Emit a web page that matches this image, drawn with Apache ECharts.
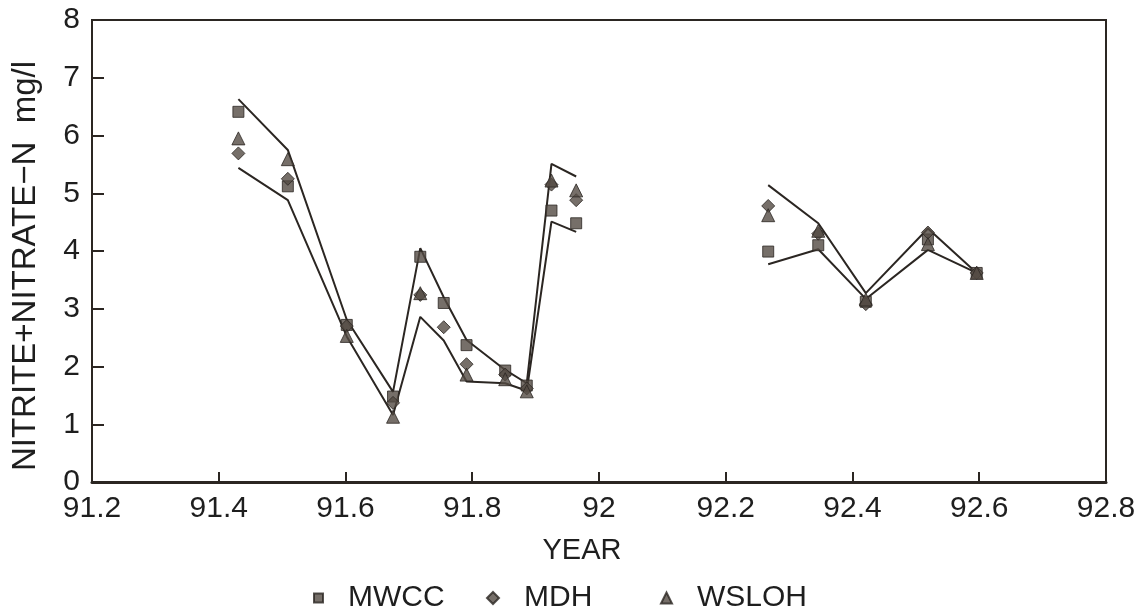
<!DOCTYPE html>
<html>
<head>
<meta charset="utf-8">
<script src="https://cdn.jsdelivr.net/npm/echarts@6/dist/echarts.min.js"></script>
<style>
html,body{margin:0;padding:0;background:#fff;}
#chart{width:1146px;height:616px;}
</style>
</head>
<body>
<div id="chart"></div>
<script>
// Sampling times (decimal year)
var years = [91.431, 91.509, 91.602, 91.675, 91.718, 91.755, 91.791, 91.852, 91.886, 91.925, 91.964, 92.267, 92.346, 92.421, 92.519, 92.596];
// Laboratory results (mg/l)
var mwcc  = [6.41, 5.12, 2.72, 1.48, 3.90, 3.10, 2.37, 1.93, 1.67, 4.70, 4.48, 3.99, 4.10, 3.12, 4.20, 3.62];
var mdh   = [5.69, 5.25, 2.70, 1.37, 3.24, 2.68, 2.04, 1.86, 1.62, 5.15, 4.88, 4.78, 4.30, 3.08, 4.32, 3.62];
var wsloh = [5.95, 5.59, 2.53, 1.13, 3.27, null, 1.86, 1.78, 1.57, 5.22, 5.05, 4.62, 4.35, 3.16, 4.12, 3.62];
// Envelope lines
var upper = [6.63, 5.75, 2.81, 1.56, 4.05, 3.20, 2.46, 1.94, 1.71, 5.51, 5.29, 5.14, 4.48, 3.27, 4.39, 3.62];
var lower = [5.44, 4.88, 2.52, 1.16, 2.86, 2.45, 1.74, 1.71, 1.58, 4.51, 4.33, 3.77, 4.03, 3.17, 4.02, 3.62];
var gapAfter = 10; // data gap between 1991 and 1992 surveys
// Axis
var xTicks = {min: 91.2, max: 92.8, interval: 0.2};
var yTicks = {min: 0, max: 8, interval: 1};

function pts(arr) {
  var out = [];
  for (var i = 0; i < years.length; i++) {
    if (arr[i] !== null) out.push([years[i], arr[i]]);
  }
  return out;
}
function linePts(arr) {
  var out = [];
  for (var i = 0; i < years.length; i++) {
    out.push([years[i], arr[i]]);
    if (i === gapAfter) out.push('-');
  }
  return out;
}

var ink = '#2b2622';
var markFill = '#544b44';
var font = 'Liberation Sans, Arial, sans-serif';

var chart = echarts.init(document.getElementById('chart'));
var markerStyle = {color: markFill, borderColor: ink, borderWidth: 1};
var lineStyle = {color: ink, width: 2};

function legendAt(name, left, size) {
  return {
    data: [name], left: left, top: 578, orient: 'horizontal',
    itemWidth: size, itemHeight: size, selectedMode: false,
    textStyle: {fontFamily: font, fontSize: 30, color: '#1e1e1e', padding: [0, 0, 16, 20]}
  };
}

chart.setOption({
  backgroundColor: '#ffffff',
  animation: false,
  grid: {left: 92, right: 40, top: 20, bottom: 134, show: true, borderColor: ink, borderWidth: 2, backgroundColor: 'transparent'},
  legend: [legendAt('MWCC', 308, 9), legendAt('MDH', 481, 12), legendAt('WSLOH', 655, 11)],
  xAxis: {
    type: 'value', min: xTicks.min, max: xTicks.max, interval: xTicks.interval,
    name: 'YEAR', nameLocation: 'middle', nameGap: 54,
    nameTextStyle: {fontFamily: font, fontSize: 29, color: '#1e1e1e', padding: [0, 34, 0, 0]},
    axisLine: {show: true, lineStyle: {color: ink, width: 3}},
    axisTick: {show: true, inside: true, length: 10, lineStyle: {color: ink, width: 2}},
    axisLabel: {fontFamily: font, fontSize: 30, color: '#1e1e1e', margin: 12,
      formatter: function (v) { return String(Math.round(v * 10) / 10); }},
    splitLine: {show: false}
  },
  yAxis: {
    type: 'value', min: yTicks.min, max: yTicks.max, interval: yTicks.interval,
    name: 'NITRITE+NITRATE\u2212N  mg/l', nameLocation: 'middle', nameGap: 50, nameRotate: 90,
    nameTextStyle: {fontFamily: font, fontSize: 33, color: '#1e1e1e', padding: [0, 30, 0, 0]},
    axisLine: {show: true, lineStyle: {color: ink, width: 2}},
    axisTick: {show: true, inside: true, length: 12, lineStyle: {color: ink, width: 2}},
    axisLabel: {fontFamily: font, fontSize: 30, color: '#1e1e1e', margin: 12},
    splitLine: {show: false}
  },
  series: [
    {name: 'Upper', type: 'line', data: linePts(upper), showSymbol: false, symbol: 'none', connectNulls: false, lineStyle: lineStyle, z: 2, silent: true},
    {name: 'Lower', type: 'line', data: linePts(lower), showSymbol: false, symbol: 'none', connectNulls: false, lineStyle: lineStyle, z: 2, silent: true},
    {name: 'MWCC', type: 'scatter', symbol: 'rect', symbolSize: 11, data: pts(mwcc), itemStyle: markerStyle, z: 3},
    {name: 'MDH', type: 'scatter', symbol: 'diamond', symbolSize: 13, data: pts(mdh), itemStyle: markerStyle, z: 3},
    {name: 'WSLOH', type: 'scatter', symbol: 'triangle', symbolSize: 13, data: pts(wsloh), itemStyle: markerStyle, z: 4}
  ]
});
</script>
</body>
</html>
